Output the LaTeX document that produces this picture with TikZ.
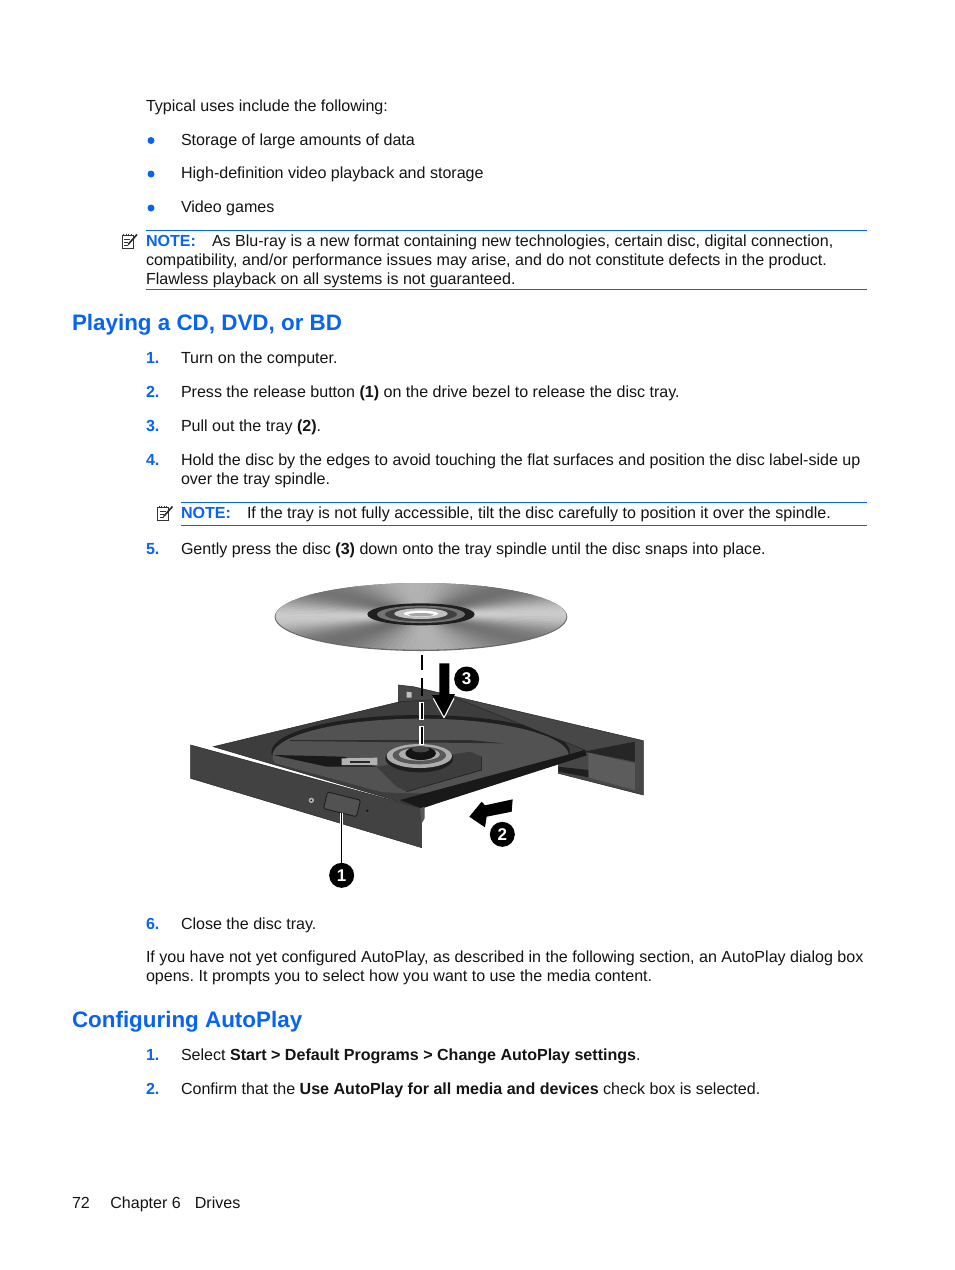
\documentclass[tikz,border=0pt]{standalone}
\usepackage{fontspec}
\setmainfont{Liberation Sans}
\frenchspacing
\definecolor{hpblue}{RGB}{8,100,240}
\tikzset{
  x=1pt,y=-1pt,
  txt/.style={anchor=base west,inner sep=0pt,outer sep=0pt,font=\fontsize{16.06}{19}\selectfont,text=black!92},
  num/.style={txt,text=hpblue,font=\fontsize{16.06}{19}\selectfont\bfseries},
  bul/.style={anchor=center,circle,fill=hpblue,inner sep=0pt,minimum size=7pt},
  head/.style={anchor=base west,inner sep=0pt,outer sep=0pt,text=hpblue,font=\fontsize{22.4}{28}\selectfont\bfseries},
  rule/.style={draw=hpblue,line width=0.9pt},
  badge/.style={circle,fill=black,text=white,inner sep=0pt,minimum size=25pt,font=\fontsize{17}{17}\selectfont\bfseries},
  iconline/.style={draw=black!80,line width=0.9pt},
  body/.style={fill=black!76,draw=black!85,line width=0.5pt},
  arrowfill/.style={fill=black,draw=none},
  blackdash/.style={draw=black,line width=2.2pt},
  outdash/.style={draw=white,line width=4.4pt},
}
\newcommand{\noteicon}[2]{%
  \begin{scope}[shift={(#1,#2)}]
    \draw[iconline] (0,3) rectangle (11,16);
    \foreach \i in {1.5,4,6.5,9} {\draw[iconline,line width=0.7pt] (\i,1.5) -- (\i,4);}
    \draw[iconline,line width=0.7pt] (2,7) -- (8,7) (2,10) -- (6,10) (2,13) -- (5,13);
    \draw[black!85,line width=1.6pt] (15,2.5) -- (6.5,12);
    \draw[black!85,line width=0.7pt] (6.5,12) -- (5.5,14);
  \end{scope}}
\begin{document}
\begin{tikzpicture}
\useasboundingbox[fill=white] (0,0) rectangle (954,1270);
% page text
\node[txt] (t1) at (146,111) {Typical uses include the following:};
\node[bul] (b1) at (151,140.5) {};
\node[txt] (t2) at (181,145) {Storage of large amounts of data};
\node[bul] (b2) at (151,174) {};
\node[txt] (t3) at (181,178) {High-definition video playback and storage};
\node[bul] (b3) at (151,208) {};
\node[txt] (t4) at (181,212) {Video games};
\draw[rule] (146,230.5) -- (867,230.5);
\noteicon{122}{232}
\node[num] (n0) at (146,246) {NOTE:};
\node[txt] (t5) at (212,246) {As Blu-ray is a new format containing new technologies, certain disc, digital connection,};
\node[txt] (t6) at (146,265) {compatibility, and/or performance issues may arise, and do not constitute defects in the product.};
\node[txt] (t7) at (146,284) {Flawless playback on all systems is not guaranteed.};
\draw[rule] (146,289.5) -- (867,289.5);
\node[head] (h1) at (72,330) {Playing a CD, DVD, or BD};
\node[num] (n1) at (146,363) {1.};
\node[txt] (t8) at (181,363) {Turn on the computer.};
\node[num] (n2) at (146,397) {2.};
\node[txt] (t9) at (181,397) {Press the release button \textbf{(1)} on the drive bezel to release the disc tray.};
\node[num] (n3) at (146,431) {3.};
\node[txt] (t10) at (181,431) {Pull out the tray \textbf{(2)}.};
\node[num] (n4) at (146,465) {4.};
\node[txt] (t11) at (181,465) {Hold the disc by the edges to avoid touching the flat surfaces and position the disc label-side up};
\node[txt] (t12) at (181,484) {over the tray spindle.};
\draw[rule] (181,502.5) -- (867,502.5);
\noteicon{157.5}{504}
\node[num] (n5) at (181,518) {NOTE:};
\node[txt] (t13) at (247,518) {If the tray is not fully accessible, tilt the disc carefully to position it over the spindle.};
\draw[rule] (181,525.5) -- (867,525.5);
\node[num] (n6) at (146,554) {5.};
\node[txt] (t14) at (181,554) {Gently press the disc \textbf{(3)} down onto the tray spindle until the disc snaps into place.};
\node[num] (n7) at (146,929) {6.};
\node[txt] (t15) at (181,929) {Close the disc tray.};
\node[txt] (t16) at (146,962) {If you have not yet configured AutoPlay, as described in the following section, an AutoPlay dialog box};
\node[txt] (t17) at (146,981) {opens. It prompts you to select how you want to use the media content.};
\node[head] (h2) at (72,1027) {Configuring AutoPlay};
\node[num] (n8) at (146,1060) {1.};
\node[txt] (t18) at (181,1060) {Select \textbf{Start > Default Programs > Change AutoPlay settings}.};
\node[num] (n9) at (146,1094) {2.};
\node[txt] (t19) at (181,1094) {Confirm that the \textbf{Use AutoPlay for all media and devices} check box is selected.};
\node[txt] (t20) at (72,1208) {72\hspace{20.5pt}Chapter 6\hspace{14pt}Drives};
% illustration, in coordinates of the 3x crop
\begin{scope}[shift={(170,570)},x=0.33333pt,y=-0.33333pt]
  % disc
  \fill[black!58] (753,141) ellipse [x radius=439,y radius=102];
  \begin{scope}
    \clip (753,139) ellipse [x radius=436,y radius=100];
    \foreach \a in {0,3,...,357} {
      \pgfmathsetmacro\g{0.60+0.15*cos(4*(\a+4))+0.05*cos(2*\a)}
      \definecolor{wg}{gray}{\g}
      \fill[wg,draw=wg,line width=0.5pt] (753,135) -- ({753+520*cos(\a)},{135+130*sin(\a)}) -- ({753+520*cos(\a+3)},{135+130*sin(\a+3)}) -- cycle;
    }
  \end{scope}
  \fill[black!88] (753,133) ellipse [x radius=161,y radius=33];
  \fill[black!55] (753,133) ellipse [x radius=132,y radius=26];
  \fill[black!75] (753,133) ellipse [x radius=108,y radius=21];
  \fill[black!25] (753,131) ellipse [x radius=80,y radius=16];
  \fill[white] (753,131) ellipse [x radius=52,y radius=9];
  \fill[black!35] (753,134) ellipse [x radius=38,y radius=5];
  % rear frame
  \path[body,fill=black!72] (685,345) -- (730,350) -- (1420,512) -- (1420,675) -- (1165,610) -- (1165,540) -- (685,420) -- cycle;
  \fill[black!25] (710,365) -- (725,367) -- (725,383) -- (710,383) -- cycle;
  \fill[black!85] (1240,545) -- (1395,515) -- (1395,575) -- cycle;
  \fill[black!64] (1255,548) -- (1395,580) -- (1395,660) -- (1255,622) -- cycle;
  \fill[black!88] (1165,590) -- (1255,600) -- (1255,622) -- (1165,605) -- cycle;
  % tray top
  \path[body,fill=black!76] (130,530) -- (690,395) -- (860,385) -- (1245,540) -- (755,715) -- cycle;
  \begin{scope}
    \clip (130,530) -- (690,395) -- (860,385) -- (1245,540) -- (760,700) -- cycle;
    \fill[black!88] (752,547) ellipse [x radius=448,y radius=112];
    \fill[black!68] (752,558) ellipse [x radius=445,y radius=112];
    \fill[black!90] (310,555) -- (520,560) -- (620,590) -- (470,590) -- cycle;
    \fill[black!82] (360,510) -- (900,510) -- (1000,520) -- (360,513) -- cycle;
  \end{scope}
  \fill[black!76] (620,590) -- (900,545) -- (935,560) -- (935,600) -- (710,665) -- (680,650) -- cycle;
  \draw[black!88,line width=0.6pt] (710,665) -- (935,600) -- (935,560);
  \fill[black!30] (515,565) -- (622,563) -- (622,585) -- (515,585) -- cycle;
  \fill[black!85] (540,572) -- (600,572) -- (600,580) -- (540,580) -- cycle;
  % tray lip
  \fill[black!90] (690,690) -- (1245,540) -- (1250,556) -- (755,715) -- cycle;
  % spindle
  \fill[black!88] (748,565) ellipse [x radius=102,y radius=42];
  \fill[black!32] (748,558) ellipse [x radius=98,y radius=36];
  \fill[black!65] (748,556) ellipse [x radius=80,y radius=27];
  \fill[black!32] (748,553) ellipse [x radius=62,y radius=19];
  \fill[black!92] (752,550) ellipse [x radius=46,y radius=20];
  \fill[black!72] (752,538) ellipse [x radius=26,y radius=9];
  % bezel
  \path[body,fill=black!74] (62,525) -- (755,715) -- (755,833) -- (62,625) -- cycle;
  \fill[black!66] (750,715) -- (764,710) -- (764,745) -- (755,760) -- cycle;
  \node[draw=black!90,fill=black!68,line width=0.8pt,inner sep=0pt,rounded corners=1.5pt,minimum width=34pt,minimum height=17pt,rotate=-14] (btn) at (516,703) {};
  \fill[black!30] (424,691) circle (8);
  \fill[black!90] (424,691) circle (3);
  \fill[black!92] (592,722) circle (4);
  % callouts
  \node[badge] (c1) at (515,916) {1};
  \node[badge] (c2) at (997,793) {2};
  \node[badge] (c3) at (890,327) {3};
  \draw[white,line width=2.8pt] (btn.south -| c1.north) -- (c1.north);
  \draw[black,line width=1.3pt] (btn.south -| c1.north) -- (c1.north);
  % arrow 2
  \fill[arrowfill] (1028,688) -- (1025,725) -- (950,740) -- (945,772) -- (898,740) -- (935,695) -- (945,706) -- cycle;
  % arrow 3
  \fill[arrowfill] (808,280) -- (838,280) -- (838,372) -- (855,372) -- (822,445) -- (786,375) -- (808,375) -- cycle;
  \draw[white,line width=1.1pt,line join=round] (852,385) -- (822,443) -- (790,385);
  % centre line
  \draw[blackdash] (755,255) -- (755,300);
  \draw[blackdash] (755,325) -- (755,378);
  \draw[outdash] (755,395) -- (755,450);
  \draw[blackdash] (755,398) -- (755,447);
  \draw[outdash] (755,468) -- (755,524);
  \draw[blackdash] (755,471) -- (755,521);
\end{scope}
\end{tikzpicture}
\end{document}
